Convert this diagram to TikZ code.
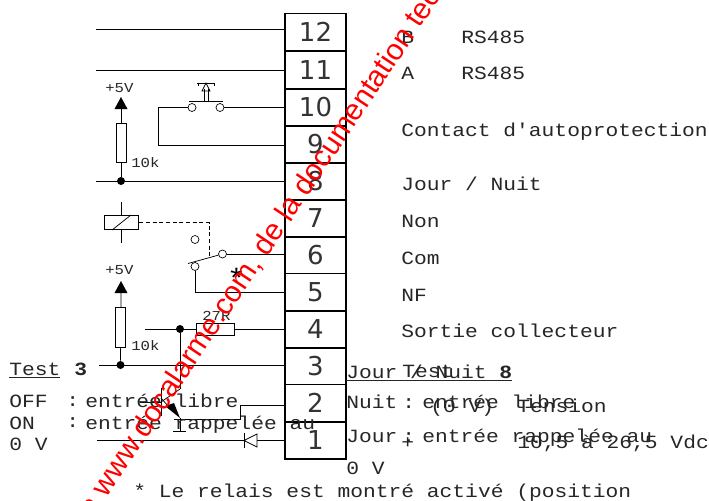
\documentclass[tikz,border=0pt]{standalone}
\usepackage{fontspec}
\setmainfont{Liberation Mono}[FakeStretch=1.14,Ligatures=TeXOff]
\newfontfamily\numfont{DejaVu Sans}
\newfontfamily\wmfont{Liberation Sans}
\tikzset{
 wire/.style={draw=black,line width=0.55pt},
 termbox/.style={draw=black,line width=1.3pt,minimum width=45.5pt,minimum height=27.8pt,inner sep=0pt,text=black!80,font=\numfont\fontsize{19.5}{20}\selectfont},
 lbl/.style={anchor=base west,inner sep=0pt,font=\fontsize{14}{15}\selectfont,text=black!85},
 small/.style={anchor=base west,inner sep=0pt,font=\fontsize{10.3}{13}\selectfont,text=black!85},
 dot/.style={circle,fill=black,inner sep=0pt,minimum size=6pt},
 pin/.style={circle,draw=black,fill=white,line width=0.5pt,inner sep=0pt,minimum size=6pt},
 res/.style={rectangle,draw=black,fill=white,line width=0.55pt,inner sep=0pt},
}
\begin{document}
\begin{tikzpicture}[x=0.75pt,y=-0.75pt]
\useasboundingbox (0,0) rectangle (709,500);
\clip (0,0) rectangle (709,500);
% terminals
\foreach \n/\y in {12/32,11/70,10/107.5,9/144.5,8/181.5,7/218.5,6/255,5/292,4/329.5,3/366,2/403,1/440.5}{
  \node[termbox] (t\n) at (315.5,\y) {\n};
}
% coordinates
\coordinate (a12) at (96,29); \coordinate (a11) at (96,70);
\coordinate (a8) at (96,181);
\draw[wire] (a12) -- (285,29);
\draw[wire] (a11) -- (285,70);
\draw[wire] (a8) -- (285,181);
% pushbutton
\node[pin] (pa) at (192,107.5) {};
\node[pin] (pb) at (220,107.5) {};
\draw[wire] (pb) -- (285,107.5);
\draw[wire] (pa) -- (158,107.5) -- (158,145) -- (285,145);
\draw[wire] (189,101) -- (223,101);
\draw[wire] (204.5,101) -- (204.5,89) (208,101) -- (208,89);
\draw[wire] (197,83) -- (215,83) (198,83) -- (198,86) (214,83) -- (214,86);
\draw[wire] (206,83) -- (202,91) -- (210,91) -- cycle;
% +5V upper
\node[small] at (105,92) {+5V};
\coordinate (v1) at (121,97);
\node[dot] (n1) at (121,181) {};
\draw[wire] (121,109) -- (n1);
\fill (v1) -- (114.5,109) -- (127.5,109) -- cycle;
\node[res,minimum width=8pt,minimum height=29.5pt] (r1) at (121.5,143) {};
\node[small] at (131,167) {10k};
% relay
\draw[wire] (121,202) -- (121,243);
\node[res,minimum width=26pt,minimum height=11pt] (rl) at (121.5,222.5) {};
\draw[wire] (112,230) -- (131,215);
\draw[wire,densely dashed,line width=0.4pt] (rl.east) -- (209.5,222.5) -- (209.5,256);
\node[pin] (c1) at (195,239.5) {};
\node[pin] (c2) at (222.5,254) {};
\node[pin] (c3) at (195,266.5) {};
\draw[wire] (188,263.5) -- (c2);
\draw[wire] (c2) -- (285,254);
\draw[wire] (c3) -- (195,292.5) -- (285,292.5);
\node[anchor=base,inner sep=0pt,font=\fontsize{21}{21}\selectfont] at (236.5,288) {*};
% +5V lower
\node[small] at (105,274) {+5V};
\coordinate (v2) at (121,281);
\node[dot] (n2) at (120.5,365) {};
\draw[wire] (121,293) -- (n2);
\fill (v2) -- (114.5,293) -- (127.5,293) -- cycle;
\node[res,minimum width=8pt,minimum height=29.5pt] (r2) at (120.5,327.5) {};
\node[small] at (131,350) {10k};
\coordinate (a3) at (99,365);
\draw[wire] (a3) -- (285,365);
% 4
\coordinate (a4) at (145,329);
\draw[wire] (a4) -- (285,329);
\node[dot] (n3) at (180,329) {};
\node[res,minimum width=29pt,minimum height=8.5pt] (r3) at (215.5,329.5) {};
\node[small] at (202,320) {27R};
\draw[wire] (n3) -- (180,389);
% transistor
\draw[wire] (161,388) -- (161,416);
\draw[wire] (140,402) -- (161,402);
\draw[wire] (161,402) -- (180,389);
\draw[wire] (161,398) -- (168,406);
\fill (180,418) -- (165,406) -- (174,403) -- cycle;
\draw[wire] (180,418) -- (180,431);
\draw[wire] (173,431) -- (186,431);
% 2
\draw[wire] (285,405) -- (240,405) -- (240,419) -- (174,419);
% 1
\coordinate (a1) at (97,440);
\draw[wire] (a1) -- (285,440);
\draw[wire,fill=white] (257,434) -- (257,447) -- (244,440.5) -- cycle;
\draw[wire] (244,433) -- (244,448);
% right labels
\node[lbl] at (401,43) {B};
\node[lbl] at (461,43) {RS485};
\node[lbl] at (401,79) {A};
\node[lbl] at (461,79) {RS485};
\node[lbl] at (401,136) {Contact d'autoprotection};
\node[lbl] at (401,190) {Jour / Nuit};
\node[lbl] at (401,227) {Non};
\node[lbl] at (401,264) {Com};
\node[lbl] at (401,301) {NF};
\node[lbl] at (401,337) {Sortie collecteur};
\node[lbl] at (402,377) {Test};
\node[lbl] at (430,412) {(0 V)};
\node[lbl] at (517,412) {Tension};
\node[lbl] at (401,448) {+};
\node[lbl] at (517,448) {10,5 à 26,5 Vdc};
% left overlay
\node[lbl] at (9,375) {\underline{Test}};
\node[lbl] at (74,375) {\textbf{3}};
\node[lbl] at (9,407) {OFF};
\node[lbl] at (66,406) {:};
\node[lbl] at (85,407) {entrée libre};
\node[lbl] at (9,429) {ON};
\node[lbl] at (66,427) {:};
\node[lbl] at (85,429) {entrée rappelée au};
\node[lbl] at (9,450) {0 V};
% right overlay
\node[lbl] at (346,378) {\underline{\makebox[124.5pt][l]{Jour / Nuit}}};
\node[lbl] at (499,378) {\textbf{8}};
\node[lbl] at (346,408) {Nuit};
\node[lbl] at (402,408) {:};
\node[lbl] at (422,408) {entrée libre};
\node[lbl] at (346,442) {Jour};
\node[lbl] at (402,442) {:};
\node[lbl] at (422,442) {entrée rappelée au};
\node[lbl] at (346,474) {0 V};
\node[lbl] at (133,497) {* Le relais est montré activé (position};
% watermark
\node[anchor=base west,inner sep=0pt,rotate=56.3,text=red,font=\wmfont\fontsize{22.2}{22}\selectfont] at (93,519) {a www.docalarme.com, de la documentation technique};
\end{tikzpicture}
\end{document}
